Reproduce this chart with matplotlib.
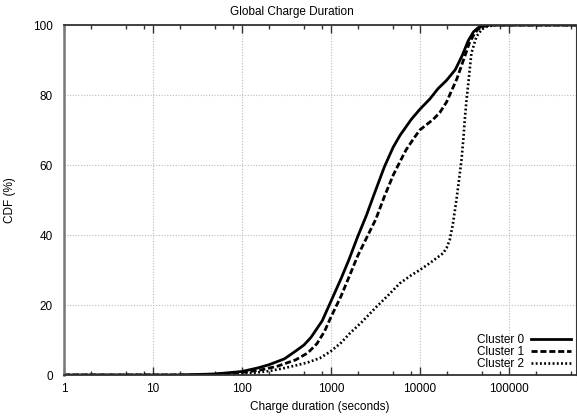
import matplotlib
matplotlib.use("Agg")
import matplotlib.pyplot as plt
from matplotlib.ticker import LogLocator, FixedLocator, NullFormatter

plt.rcParams["font.family"] = ["Liberation Sans", "DejaVu Sans"]
plt.rcParams["font.size"] = 8.5

# charge durations (s) and cumulative share (%) per cluster
c0_x = [1, 20, 50, 100, 150, 200, 300, 400, 500, 600, 800, 1000, 1300,
        1600, 2000, 2500, 3000, 4000, 5000, 6000, 8000, 10000, 13000,
        16000, 20000, 25000, 30000, 35000, 40000, 45000, 50000, 60000,
        570000]
c0_y = [0, 0, 0.3, 1.0, 2.0, 2.9, 4.6, 6.8, 8.6, 10.8, 15.5, 21, 27.5,
        33, 39.5, 45.5, 51, 59.5, 65, 68.5, 73, 75.9, 78.9,
        81.8, 84.2, 87.2, 91.3, 95.5, 98, 99.2, 99.7, 100,
        100]

c1_x = [1, 30, 60, 100, 160, 250, 400, 550, 700, 850, 1000, 1300, 1600,
        2000, 2500, 3200, 4000, 5000, 6000, 7000, 8500, 10000, 12000,
        14100, 16800, 20000, 23000, 26000, 30000, 33000, 36000, 40000,
        45000, 52000, 65000, 570000]
c1_y = [0, 0, 0.3, 0.7, 1.4, 2.5, 4.3, 6.3, 9.0, 12.5, 16.5, 22.5, 28,
        34, 39, 44.5, 51, 57, 61, 64.3, 67.5, 70, 71.6,
        73, 75, 78, 81.5, 84.5, 89, 92, 94.8, 97,
        98.8, 99.6, 100, 100]

c2_x = [1, 40, 100, 146, 200, 290, 400, 550, 750, 1000, 1300, 1635, 2200,
        3260, 4500, 5960, 8000, 10000, 13000, 16000, 18300, 20000, 21700,
        23500, 25800, 27500, 29400, 31000, 32000, 33500, 35000, 38000,
        43300, 50000, 56000, 70000, 570000]
c2_y = [0, 0, 0.4, 0.7, 1.1, 1.9, 2.7, 3.6, 4.8, 6.8, 9.2, 11.9, 15,
        19.5, 23, 26.2, 28.5, 30, 32, 33.7, 34.8, 36.3, 38.6,
        43, 50, 55.5, 61.4, 68, 72.9, 78.6, 83, 91.9,
        96.7, 98.8, 99.5, 100, 100]

labels = ["Cluster 0", "Cluster 1", "Cluster 2"]

fig = plt.figure(figsize=(5.77, 4.2), dpi=100)
ax = fig.add_axes([64 / 577, 45 / 420, 512 / 577, 350 / 420])

ax.plot(c0_x, c0_y, color="black", lw=2.0, ls="-", label=labels[0])
ax.plot(c1_x, c1_y, color="black", lw=2.0, ls=(0, (2.2, 1.0)), label=labels[1])
ax.plot(c2_x, c2_y, color="black", lw=1.9, ls=(0, (0.7, 0.9)), label=labels[2])

ax.set_xscale("log")
ax.set_xlim(1, 570000)
ax.set_ylim(0, 100)

ax.xaxis.set_major_locator(FixedLocator([1, 10, 100, 1000, 10000, 100000]))
ax.set_xticklabels(["1", "10", "100", "1000", "10000", "100000"])
ax.xaxis.set_minor_locator(LogLocator(base=10, subs=(2, 5, 8), numticks=20))
ax.xaxis.set_minor_formatter(NullFormatter())
ax.set_yticks([0, 20, 40, 60, 80, 100])

ax.tick_params(axis="x", which="major", direction="in", length=6, width=1,
               top=True, pad=6, colors="#333333", labelcolor="black")
ax.tick_params(axis="x", which="minor", direction="in", length=3, width=1,
               top=True, colors="#333333")
ax.tick_params(axis="y", which="major", direction="in", length=0, pad=8)

ax.grid(True, which="major", color="#bbbbbb", ls=(0, (1, 1.5)), lw=0.8)

for side in ["top", "bottom"]:
    ax.spines[side].set_color("#333333")
    ax.spines[side].set_linewidth(1.3)
ax.spines["left"].set_color("#777777")
ax.spines["left"].set_linewidth(1.8)
ax.spines["right"].set_color("#333333")

ax.set_xlabel("Charge duration (seconds)", labelpad=4)
ax.set_ylabel("CDF (%)", labelpad=12)
fig.text(0.506, 0.986, "Global Charge Duration", ha="center", va="top")

ax.legend(loc="lower right", frameon=False, markerfirst=False,
          handlelength=3.4, handletextpad=0.6, labelspacing=0.0,
          borderaxespad=0.1, borderpad=0.3)

fig.savefig("out.png", dpi=100)
